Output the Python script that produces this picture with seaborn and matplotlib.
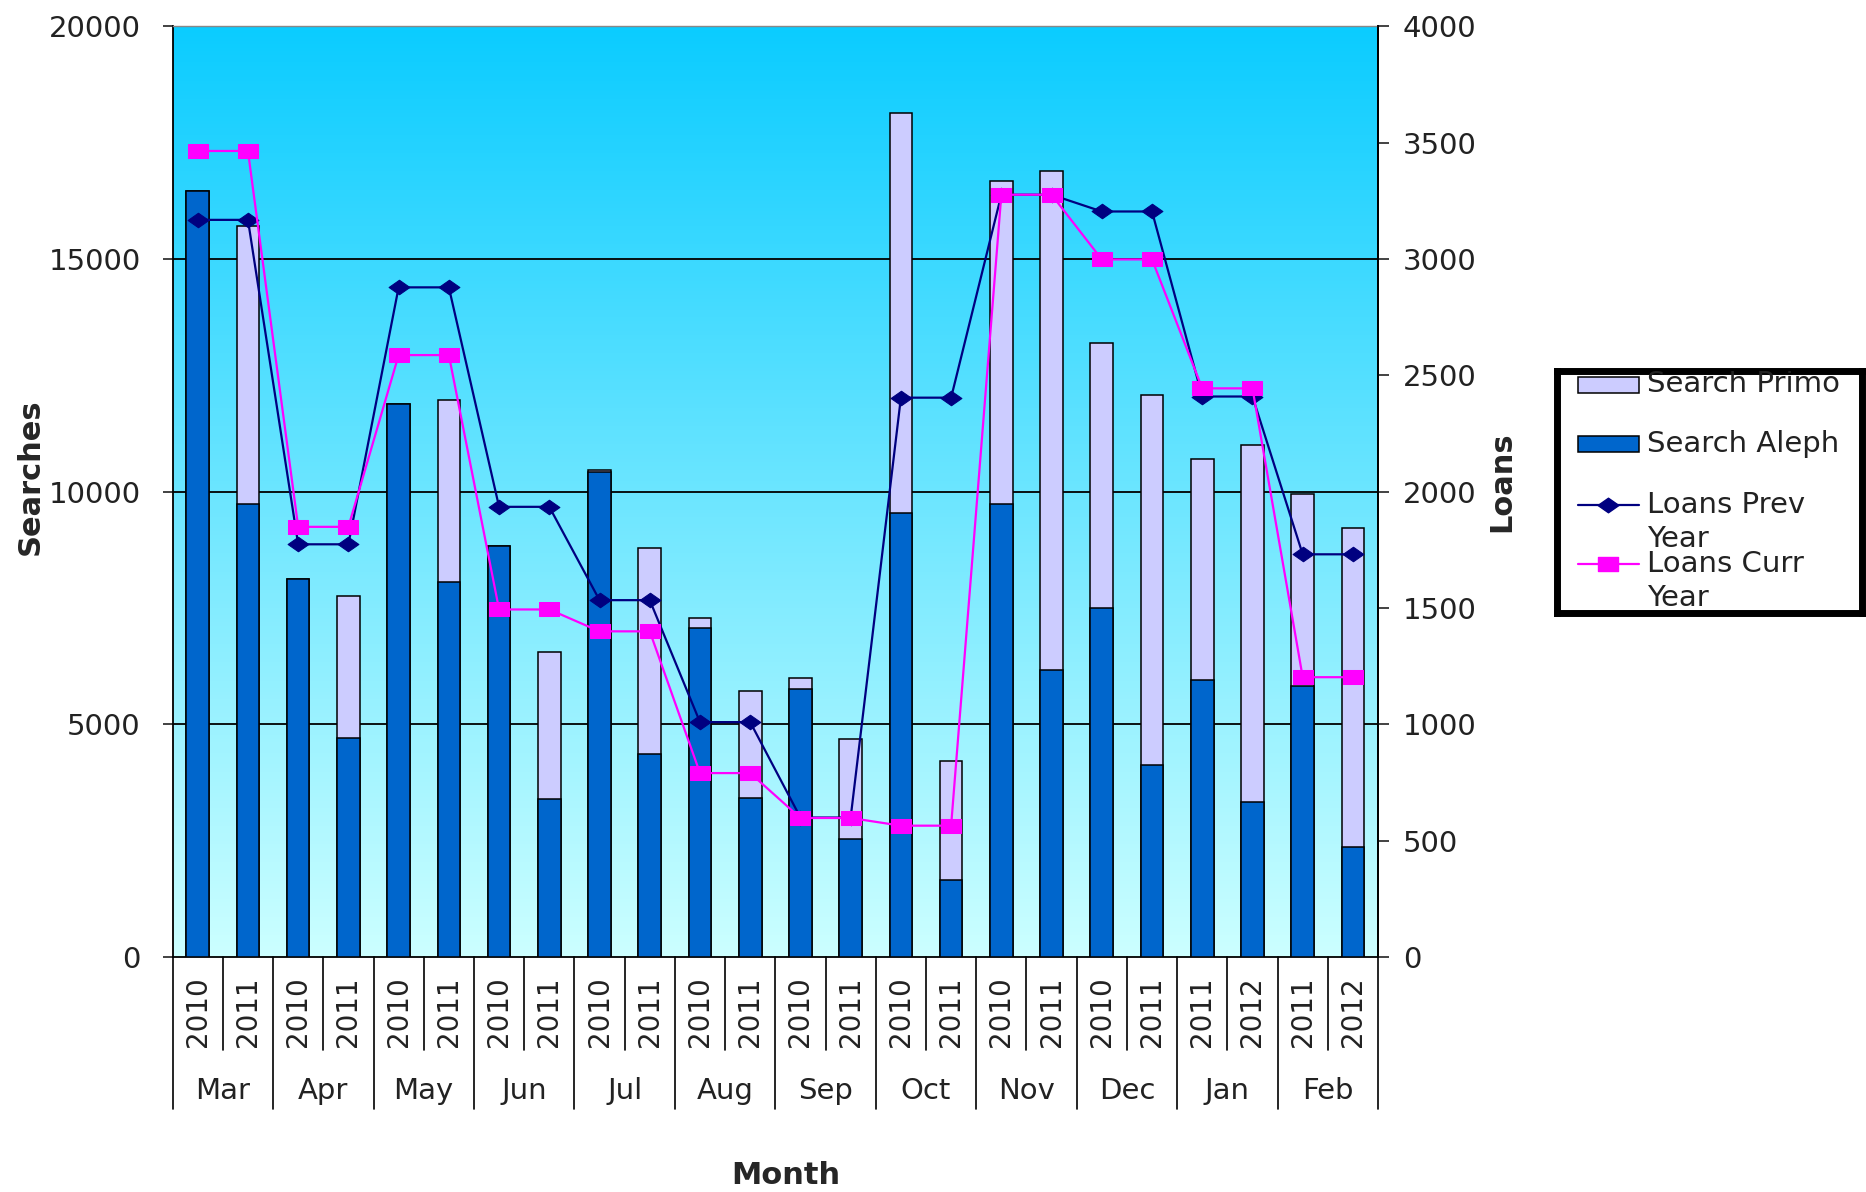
import numpy as np
import pandas as pd
import matplotlib
matplotlib.use('Agg')
import matplotlib.pyplot as plt
from matplotlib.path import Path
from matplotlib.patches import Rectangle
from matplotlib.colors import LinearSegmentedColormap
import seaborn as sns

# --- data ---
months = ["Mar", "Apr", "May", "Jun", "Jul", "Aug", "Sep", "Oct", "Nov", "Dec", "Jan", "Feb"]
years = ["2010", "2011"] * 10 + ["2011", "2012", "2011", "2012"]
search_total = [16450, 15700, 8130, 7770, 11880, 11980, 8840, 6550, 10470, 8790, 7290, 5710,
                5990, 4680, 18130, 4210, 16680, 16880, 13190, 12070, 10700, 11000, 9960, 9220]
search_aleph = [16450, 9740, 8130, 4700, 11880, 8060, 8840, 3390, 10420, 4360, 7070, 3430,
                5760, 2540, 9540, 1660, 9730, 6180, 7500, 4130, 5950, 3340, 5830, 2360]
loans_prev = [3168, 3168, 1774, 1774, 2878, 2878, 1935, 1935, 1534, 1534, 1010, 1010,
              600, 600, 2404, 2404, 3276, 3276, 3204, 3204, 2409, 2409, 1731, 1731]
loans_curr = [3464, 3464, 1849, 1849, 2587, 2587, 1494, 1494, 1400, 1400, 791, 791,
              598, 598, 565, 565, 3276, 3276, 2998, 2998, 2444, 2444, 1203, 1203]

legend_labels = ["Search Primo", "Search Aleph", "Loans Prev\nYear", "Loans Curr\nYear"]

df = pd.DataFrame({
    "pos": np.arange(len(years)),
    "year": years,
    "total": search_total,
    "aleph": search_aleph,
    "prev": loans_prev,
    "curr": loans_curr,
})

PRIMO = "#CCCCFF"
ALEPH = "#0066CC"
PREV = "#000080"
CURR = "#FF00FF"
TXT = "#222222"

sns.set_style("white")
plt.rcParams['font.family'] = ['DejaVu Sans']
FS = 21

# wide diamond / wide square like the Excel markers
diamond = Path([(-1, 0), (0, 0.7), (1, 0), (0, -0.7), (-1, 0)],
               [Path.MOVETO, Path.LINETO, Path.LINETO, Path.LINETO, Path.CLOSEPOLY])
rect = Path([(-1, -0.72), (1, -0.72), (1, 0.72), (-1, 0.72), (-1, -0.72)],
            [Path.MOVETO, Path.LINETO, Path.LINETO, Path.LINETO, Path.CLOSEPOLY])

fig = plt.figure(figsize=(18.66, 11.92), dpi=100)
ax = fig.add_axes([0.0925, 0.197, 0.646, 0.781])

# gradient background
grad = np.linspace(0, 1, 256).reshape(-1, 1)
cmap = LinearSegmentedColormap.from_list("bg", ["#0BCCFF", "#CCFFFF"])
ax.imshow(grad, aspect="auto", cmap=cmap, extent=[0, 1, 0, 1],
          transform=ax.transAxes, zorder=0, origin="upper")

for yv in [5000, 10000, 15000]:
    ax.axhline(yv, color="black", lw=1.3, zorder=1)

sns.barplot(data=df, x="pos", y="total", native_scale=True, width=0.45,
            color=PRIMO, edgecolor="black", linewidth=1.1, saturation=1, ax=ax, zorder=2)
sns.barplot(data=df, x="pos", y="aleph", native_scale=True, width=0.45,
            color=ALEPH, edgecolor="black", linewidth=1.1, saturation=1, ax=ax, zorder=3)

ax.set_xlim(-0.5, len(years) - 0.5)
ax.set_ylim(0, 20000)
ax.set_yticks([0, 5000, 10000, 15000, 20000])
ax.set_yticklabels(["0", "5000", "10000", "15000", "20000"], fontsize=FS)
ax.tick_params(axis="y", direction="out", length=7, width=1.2, pad=16, left=True,
               colors=TXT)
ax.set_xticks(df["pos"])
ax.set_xticklabels(years, rotation=90, fontsize=20)
ax.tick_params(axis="x", length=0, pad=14, colors=TXT)
ax.set_xlabel("")
ax.set_ylabel("")
for s in ["left", "bottom", "right"]:
    ax.spines[s].set_color("black")
    ax.spines[s].set_linewidth(1.3)
ax.spines["top"].set_color("#888888")
ax.spines["top"].set_linewidth(1)

# multi-level category separators
tr = ax.get_xaxis_transform()
for k in range(len(years) + 1):
    x = k - 0.5
    bottom = -0.163 if k % 2 == 0 else -0.10
    ax.plot([x, x], [0, bottom], color="black", lw=1.2, transform=tr, clip_on=False)
for m, name in enumerate(months):
    ax.text(2 * m + 0.5, -0.144, name, transform=tr, ha="center", va="center",
            fontsize=FS, color=TXT)

# loans on secondary axis
ax2 = ax.twinx()
sns.lineplot(data=df, x="pos", y="prev", color=PREV, lw=1.6, marker=diamond,
             markersize=15, markeredgecolor=PREV, ax=ax2, zorder=4)
sns.lineplot(data=df, x="pos", y="curr", color=CURR, lw=1.6, marker=rect,
             markersize=15, markeredgecolor=CURR, ax=ax2, zorder=5)
ax2.set_ylim(0, 4000)
ax2.set_yticks(range(0, 4001, 500))
ax2.set_yticklabels([str(v) for v in range(0, 4001, 500)], fontsize=FS)
ax2.tick_params(axis="y", direction="out", length=8, width=1.2, pad=10, right=True,
                colors=TXT)
ax2.set_ylabel("")
ax2.set_xlim(-0.5, len(years) - 0.5)
for s in ["left", "bottom", "top"]:
    ax2.spines[s].set_visible(False)
ax2.spines["right"].set_color("black")
ax2.spines["right"].set_linewidth(1.3)

fig.text(0.016, 0.60, "Searches", rotation=90, ha="center", va="center",
         fontsize=22, fontweight="bold")
fig.text(0.805, 0.596, "Loans", rotation=90, ha="center", va="center",
         fontsize=22, fontweight="bold")
fig.text(0.421, 0.014, "Month", ha="center", va="center", fontsize=22, fontweight="bold")

# legend box drawn by hand so the labels get clipped like in the original
lax = fig.add_axes([0.8344, 0.4857, 0.1636, 0.203])
lax.set_xlim(0, 1)
lax.set_ylim(0, 1)
lax.set_xticks([])
lax.set_yticks([])
lax.set_facecolor("white")
for s in lax.spines.values():
    s.set_color("black")
    s.set_linewidth(5)
hx0, hx1 = 0.068, 0.269
lax.add_patch(Rectangle((hx0, 0.909), hx1 - hx0, 0.066, facecolor=PRIMO,
                        edgecolor="black", lw=1.1))
lax.add_patch(Rectangle((hx0, 0.665), hx1 - hx0, 0.066, facecolor=ALEPH,
                        edgecolor="black", lw=1.1))
lax.plot([hx0, hx1], [0.446, 0.446], color=PREV, lw=1.6)
lax.plot([(hx0 + hx1) / 2], [0.446], marker=diamond, markersize=15, color=PREV)
lax.plot([hx0, hx1], [0.203, 0.203], color=CURR, lw=1.6)
lax.plot([(hx0 + hx1) / 2], [0.203], marker=rect, markersize=15, color=CURR)
text_y = [0.946, 0.698, 0.376, 0.133]
for ty, lab in zip(text_y, legend_labels):
    lax.text(0.295, ty, lab, ha="left", va="center", fontsize=FS, color=TXT,
             linespacing=1.25, clip_on=True)

fig.savefig("out.png", dpi=100)
